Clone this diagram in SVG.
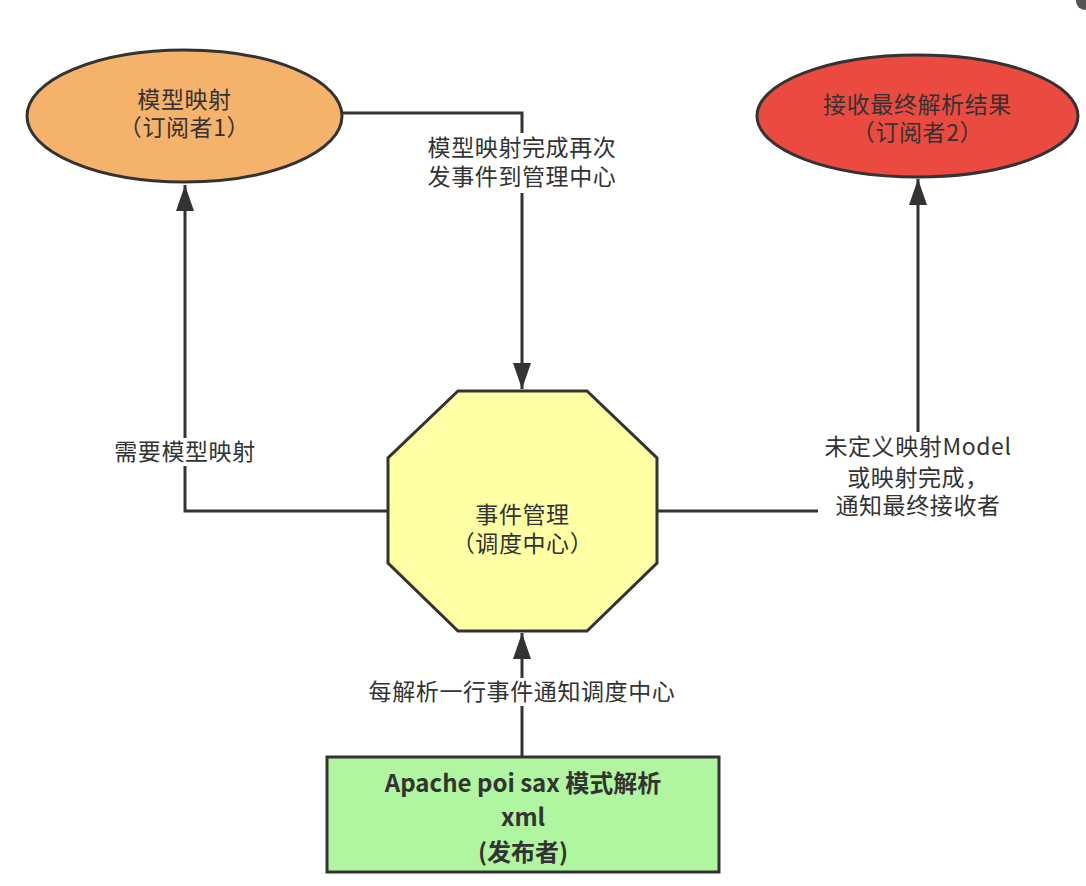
<svg xmlns="http://www.w3.org/2000/svg" width="1086" height="886" viewBox="0 0 1086 886">
  <defs>
    <style>
      .shape { stroke: #333333; stroke-width: 3; }
      .t { font-family: "Noto Sans CJK SC", "Noto Sans", sans-serif; font-size: 23px; fill: #333333; text-anchor: middle; letter-spacing: 0.6px; }
      .tb { font-family: "Noto Sans CJK SC", "Noto Sans", sans-serif; font-size: 24px; font-weight: bold; fill: #333333; text-anchor: middle; }
      .conn { fill: none; stroke: #333333; stroke-width: 3; marker-end: url(#arrow); }
      .lbl-bg { fill: #ffffff; }
    </style>
    <marker id="arrow" viewBox="0 0 26 18" refX="26" refY="9" markerWidth="26" markerHeight="18" markerUnits="userSpaceOnUse" orient="auto">
      <path d="M0,0 L26,9 L0,18 Z" fill="#333333"/>
    </marker>
  </defs>
  <rect width="1086" height="886" fill="#ffffff"/>
  <rect x="1076" y="-12" width="24" height="22" rx="9" fill="#555555"/>

  <g id="connectors">
    <path class="conn" d="M522,757 L522,633"/>
    <path class="conn" d="M388,511 L185,511 L185,185"/>
    <path class="conn" d="M342,113 L522,113 L522,389"/>
    <path class="conn" d="M657,511 L918,511 L918,179"/>
  </g>

  <g id="labels">
    <rect class="lbl-bg" x="424" y="133" width="196" height="60"/>
    <text class="t" x="522" y="156">模型映射完成再次</text>
    <text class="t" x="522" y="185">发事件到管理中心</text>

    <rect class="lbl-bg" x="110" y="438" width="150" height="28"/>
    <text class="t" x="185" y="460">需要模型映射</text>

    <rect class="lbl-bg" x="818" y="432" width="200" height="90"/>
    <text class="t" x="918" y="455">未定义映射Model</text>
    <text class="t" x="918" y="486">或映射完成，</text>
    <text class="t" x="918" y="514">通知最终接收者</text>

    <rect class="lbl-bg" x="364" y="678" width="316" height="28"/>
    <text class="t" x="522" y="700">每解析一行事件通知调度中心</text>
  </g>

  <g id="subscriber1">
    <ellipse class="shape" cx="184.5" cy="116" rx="157.5" ry="66" fill="#F5B26B"/>
    <text class="t" x="184.5" y="108">模型映射</text>
    <text class="t" x="184.5" y="136">（订阅者1）</text>
  </g>

  <g id="subscriber2">
    <ellipse class="shape" cx="917.5" cy="116" rx="160.5" ry="61" fill="#EA4A40"/>
    <text class="t" x="917.5" y="113">接收最终解析结果</text>
    <text class="t" x="917.5" y="141">（订阅者2）</text>
  </g>

  <g id="dispatcher">
    <polygon class="shape" points="458,391 587,391 657,458 657,563 587,631 458,631 388,563 388,458" fill="#FFFFA3"/>
    <text class="t" x="522.5" y="523">事件管理</text>
    <text class="t" x="522.5" y="552">（调度中心）</text>
  </g>

  <g id="publisher">
    <rect class="shape" x="327" y="757" width="392" height="115" fill="#B0F5A0"/>
    <text class="tb" x="523" y="792">Apache poi sax 模式解析</text>
    <text class="tb" x="523" y="826">xml</text>
    <text class="tb" x="523" y="861">(发布者)</text>
  </g>
</svg>
